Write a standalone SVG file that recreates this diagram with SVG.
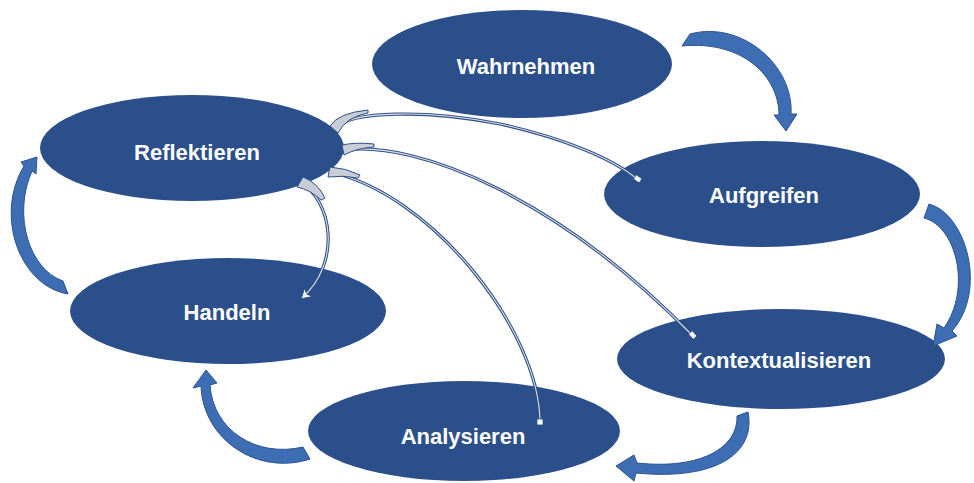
<svg xmlns="http://www.w3.org/2000/svg" width="974" height="483" viewBox="0 0 974 483">
<defs>
<style>
.node{fill:#2B4F8A;}
.lbl{fill:#FFFFFF;font-family:"Liberation Sans",Arial,sans-serif;font-weight:bold;font-size:22px;text-anchor:middle;dominant-baseline:central;}
.blk{fill:#3D6EB3;stroke:#2A5290;stroke-width:1;stroke-linejoin:round;}
.thinO{fill:none;stroke:#2E4F86;stroke-width:3.2;stroke-linecap:butt;}
.thinI{fill:none;stroke:#DDE1EA;stroke-width:1.1;}
.wedge{fill:#C9CDD6;stroke:#2E4F86;stroke-width:1;stroke-linejoin:round;}
</style>
<marker id="head" markerWidth="14" markerHeight="14" refX="10" refY="7" orient="auto" markerUnits="userSpaceOnUse">
<path d="M1,1 L11,7 L1,13 L4,7 Z" fill="#FFFFFF" stroke="#2E4F86" stroke-width="1"/>
</marker>
</defs>
<rect width="974" height="483" fill="#FFFFFF"/>

<g id="node-wahrnehmen"><ellipse class="node" cx="522" cy="64" rx="150" ry="54"/><text class="lbl" x="526" y="66">Wahrnehmen</text></g>
<g id="node-reflektieren"><ellipse class="node" cx="192" cy="148" rx="152" ry="53"/><text class="lbl" x="197" y="152">Reflektieren</text></g>
<g id="node-aufgreifen"><ellipse class="node" cx="762" cy="194" rx="158" ry="53"/><text class="lbl" x="764" y="195">Aufgreifen</text></g>
<g id="node-handeln"><ellipse class="node" cx="228" cy="311" rx="158" ry="53"/><text class="lbl" x="227" y="312">Handeln</text></g>
<g id="node-kontextualisieren"><ellipse class="node" cx="781" cy="359" rx="164" ry="50"/><text class="lbl" x="779" y="360">Kontextualisieren</text></g>
<g id="node-analysieren"><ellipse class="node" cx="464" cy="431" rx="156" ry="50"/><text class="lbl" x="463" y="436">Analysieren</text></g>

<g id="connectors">
<!-- cycle block arrows -->
<path class="blk" d="M690,34 C742,20 794,66 791,114 L797,114 L786,131 L774,115 L779,115 C779,76 742,40 682,46 Z"/>
<path class="blk" d="M929,204 C966,214 988,290 952,331 L957,336 L933,346 L937,324 L944,328 C972,288 956,226 924,218 Z"/>
<path class="blk" d="M748,412 C756,452 718,481 636,473 L634,481 L616,466 L634,455 L637,463 C702,470 738,447 737,416 Z"/>
<path class="blk" d="M310,459 C258,476 203,440 201,386 L193,388 L206,370 L217,383 L210,385 C213,430 256,458 303,447 Z"/>
<path class="blk" d="M68,294 C20,286 -6,216 24,166 L21,162 L37,157 L36,174 L32,171 C12,216 30,270 63,281 Z"/>
<!-- thin arrows from Reflektieren -->
<path class="thinO" d="M334,129 C350,110 430,110 500,124 C560,137 612,158 637,179"/>
<path class="thinI" d="M334,129 C350,110 430,110 500,124 C560,137 612,158 637,179"/>
<path class="thinO" d="M343,150 C420,140 560,200 692,335"/>
<path class="thinI" d="M343,150 C420,140 560,200 692,335"/>
<path class="thinO" d="M329,172 C430,192 540,330 540,423"/>
<path class="thinI" d="M329,172 C430,192 540,330 540,423"/>
<path class="thinO" d="M300,182 C332,200 342,262 302,298" marker-end="url(#head)"/>
<path class="thinI" d="M300,182 C332,200 342,262 302,298"/>
<path class="wedge" d="M330,126 Q338,113 368,110 L368,113 Q346,117 338,133 Z"/>
<path class="wedge" d="M342,145 Q356,142 374,144 L374,147 Q357,148 344,155 Z"/>
<path class="wedge" d="M330,167 Q346,168 360,175 L358,178 Q343,175 328,177 Z"/>
<path class="wedge" d="M303,177 Q318,183 325,198 L321,200 Q311,190 297,187 Z"/>
<rect x="634" y="176" width="7" height="5" fill="#FFFFFF" stroke="#2E4F86" stroke-width="0.8" transform="rotate(35 637 179)"/>
<rect x="689" y="332" width="7" height="5" fill="#FFFFFF" stroke="#2E4F86" stroke-width="0.8" transform="rotate(48 692 335)"/>
<rect x="537" y="419" width="6" height="6" fill="#FFFFFF" stroke="#2E4F86" stroke-width="0.8"/>
</g>
</svg>
